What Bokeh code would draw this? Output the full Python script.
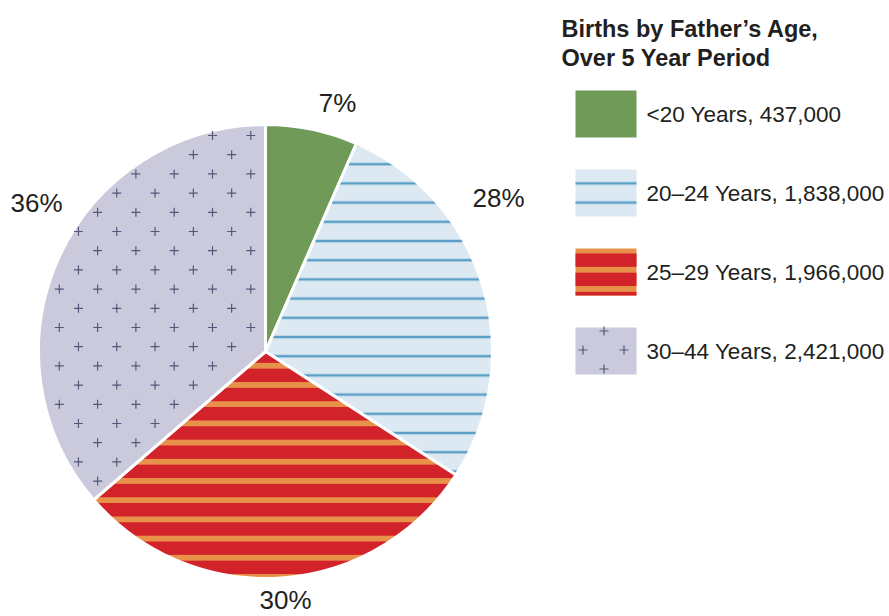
import numpy as np
from bokeh.plotting import figure
from bokeh.models import Range1d
from bokeh.core.properties import value
from bokeh.embed import file_html
from bokeh.resources import INLINE

# ---- data ----
categories = ["<20 Years", "20–24 Years", "25–29 Years", "30–44 Years"]
births = [437000, 1838000, 1966000, 2421000]
title_lines = ["Births by Father’s Age,", "Over 5 Year Period"]

# ---- styles ----
fills = ["#6f9a57", "#dce9f2", "#e8914a", "#cbcadc"]
hatch_patterns = [" ", "horizontal_line", "horizontal_line", " "]
hatch_colors = ["#6f9a57", "#5a9fc8", "#d2232a", "#cbcadc"]
hatch_weights = [1, 2.5, 13.5, 1]
HATCH_SCALE = 19.2
PLUS_COLOR = "#545779"
TEXT_COLOR = "#231f20"
FONT = "Liberation Sans"

W, H = 885, 616


def X(px):
    return px


def Y(py):
    return H - py


p = figure(width=W, height=H, x_range=Range1d(0, W), y_range=Range1d(0, H),
           output_backend="svg", toolbar_location=None, min_border=0)
p.axis.visible = False
p.grid.visible = False
p.outline_line_color = None
p.background_fill_color = "white"

cx, cy, R = X(265), Y(351), 227.0
vals = np.array(births, dtype=float)
frac = vals / vals.sum()
cum = np.concatenate([[0.0], np.cumsum(frac)])

for i in range(len(births)):
    start = np.pi / 2 - 2 * np.pi * cum[i]
    end = np.pi / 2 - 2 * np.pi * cum[i + 1]
    p.wedge(x=cx, y=cy, radius=R, start_angle=start, end_angle=end,
            direction="clock", fill_color=fills[i], line_color="white",
            line_width=3, hatch_pattern=hatch_patterns[i],
            hatch_color=hatch_colors[i], hatch_weight=hatch_weights[i],
            hatch_scale=HATCH_SCALE)

# plus pattern for the last slice (decoration lattice)
th0 = 2 * np.pi * cum[3]
xs, ys = [], []
for j in range(-20, 20):
    py = 135 + 19.2 * j
    off = 19.15 if j % 2 else 0.0
    for k in range(-10, 10):
        px = 212 + 38.3 * k + off
        dx, dy = X(px) - cx, Y(py) - cy
        r = np.hypot(dx, dy)
        th = np.arctan2(dx, dy) % (2 * np.pi)
        if r > R - 3 or r < 6:
            continue
        if not (th0 <= th <= 2 * np.pi):
            continue
        d1 = abs(dx * np.cos(th0) - dy * np.sin(th0))
        if d1 < 5 or -dx < 5:
            continue
        xs.append(X(px)); ys.append(Y(py))
p.scatter(xs, ys, marker="cross", size=9, line_color=PLUS_COLOR, line_width=1.2)

# percentage labels
label_pos = [(337, 102), (498, 197), (285, 599), (36, 202)]
for f, (lx, ly) in zip(frac, label_pos):
    p.text(x=[X(lx)], y=[Y(ly)], text=[f"{round(f * 100)}%"],
           text_font=value(FONT), text_font_size="26px", text_color=TEXT_COLOR,
           text_align="center", text_baseline="middle")

# title
for t, by in zip(title_lines, [28, 57]):
    p.text(x=[X(561)], y=[Y(by)], text=[t], text_font=value(FONT),
           text_font_size="23.5px", text_font_style="bold", text_color=TEXT_COLOR,
           text_align="left", text_baseline="alphabetic")

# legend
leg_y = [113.5, 192.5, 271.5, 350.5]
for i, (c, v) in enumerate(zip(categories, births)):
    p.rect(x=X(605.5), y=Y(leg_y[i]), width=61, height=47,
           fill_color=fills[i], line_color=None,
           hatch_pattern=hatch_patterns[i], hatch_color=hatch_colors[i],
           hatch_weight=hatch_weights[i], hatch_scale=HATCH_SCALE)
    p.text(x=[X(646)], y=[Y(leg_y[i])], text=[f"{c}, {v:,}"],
           text_font=value(FONT), text_font_size="22.5px", text_color=TEXT_COLOR,
           text_align="left", text_baseline="middle")

lx0, ly0 = X(605.5), Y(leg_y[3])
p.scatter([lx0 - 2, lx0 - 23, lx0 + 18, lx0 - 2], [ly0 + 20, ly0 + 1, ly0 + 1, ly0 - 18],
          marker="cross", size=9, line_color=PLUS_COLOR, line_width=1.2)

open("out.html", "w").write(file_html(p, INLINE))
